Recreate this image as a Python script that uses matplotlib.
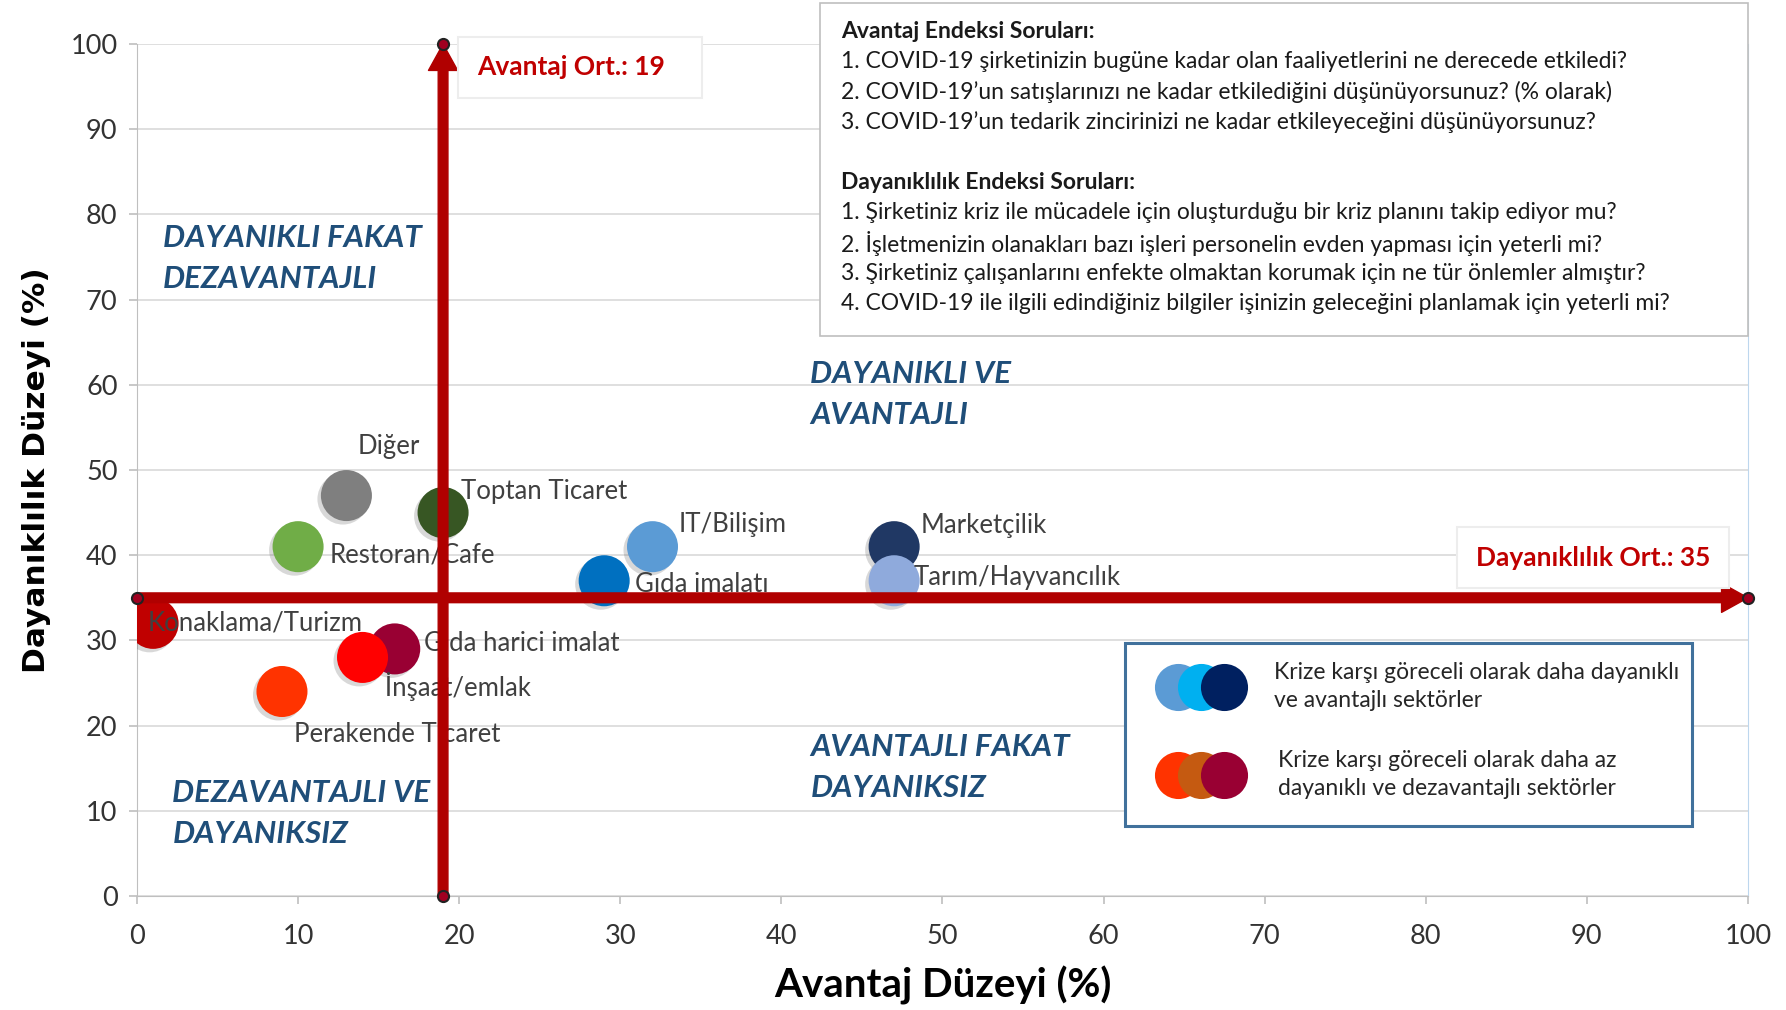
import matplotlib.pyplot as plt
import matplotlib.patheffects as pe
from matplotlib.patches import Rectangle

plt.rcParams['font.family'] = ['Lato', 'DejaVu Sans']

# sektör verileri
sectors = ['Diğer', 'Toptan Ticaret', 'Restoran/Cafe', 'IT/Bilişim', 'Gıda imalatı',
           'Marketçilik', 'Tarım/Hayvancılık', 'Konaklama/Turizm', 'Gıda harici imalat',
           'İnşaat/emlak', 'Perakende Ticaret']
advantage = [13, 19, 10, 32, 29, 47, 47, 1, 16, 14, 9]
resilience = [47, 45, 41, 41, 37, 41, 37, 32, 29, 28, 24]
colors = ['#7F7F7F', '#375623', '#70AD47', '#5B9BD5', '#0070C0', '#203864', '#8FAADC',
          '#C00000', '#990033', '#FF0000', '#FF3300']
# etiket kaydırmaları (pt)
offsets = [(8, 35), (13, 15), (23, -6), (19, 16), (22, -3), (19, 15), (14, 2),
           (-4, 0), (21, 4), (16, -21), (9, -31)]

adv_mean = 19
res_mean = 35

questions_adv = ['1. COVID-19 şirketinizin bugüne kadar olan faaliyetlerini ne derecede etkiledi?',
                 '2. COVID-19’un satışlarınızı ne kadar etkilediğini düşünüyorsunuz? (% olarak)',
                 '3. COVID-19’un tedarik zincirinizi ne kadar etkileyeceğini düşünüyorsunuz?']
questions_res = ['1. Şirketiniz kriz ile mücadele için oluşturduğu bir kriz planını takip ediyor mu?',
                 '2. İşletmenizin olanakları bazı işleri personelin evden yapması için yeterli mi?',
                 '3. Şirketiniz çalışanlarını enfekte olmaktan korumak için ne tür önlemler almıştır?',
                 '4. COVID-19 ile ilgili edindiğiniz bilgiler işinizin geleceğini planlamak için yeterli mi?']

legend_blue = ['#5B9BD5', '#00B0F0', '#002060']
legend_red = ['#FF3300', '#C55A11', '#990033']

RED = '#B00000'
QCOL = '#1F4E79'

fig = plt.figure(figsize=(17.86, 10.10), dpi=100)
ax = fig.add_axes([0.0767, 0.1129, 0.902, 0.8435])
ax.set_xlim(0, 100)
ax.set_ylim(0, 100)
ax.set_xticks(range(0, 101, 10))
ax.set_yticks(range(0, 101, 10))
ax.grid(axis='y', color='#D9D9D9', lw=1.2, zorder=0)
ax.set_axisbelow(True)
ax.spines['top'].set_visible(False)
ax.spines['left'].set_color('#BFBFBF')
ax.spines['bottom'].set_color('#BFBFBF')
ax.spines['right'].set_color('#BDD7EE')
ax.tick_params(colors='#BFBFBF', length=6, width=1.2, labelcolor='#333333', labelsize=19.5, pad=8)
ax.tick_params(axis='x', pad=14)

ax.set_xlabel('Avantaj Düzeyi (%)', fontsize=29, fontweight='bold', labelpad=12)
ax.set_ylabel('Dayanıklılık Düzeyi (%)', fontsize=22.5, fontweight='bold', labelpad=14,
              family=['DejaVu Sans'])

sc = ax.scatter(advantage, resilience, s=1350, c=colors, zorder=3, linewidths=0)
sc.set_path_effects([pe.SimplePatchShadow(offset=(-2.5, -2.5), shadow_rgbFace='#666666', alpha=0.25),
                     pe.Normal()])

for name, x, y, off in zip(sectors, advantage, resilience, offsets):
    ax.annotate(name, (x, y), xytext=off, textcoords='offset points', ha='left', va='center',
                fontsize=18.5, color='#404040', zorder=4)

# ortalama okları
ax.annotate('', xy=(adv_mean, 100), xytext=(adv_mean, 0),
            arrowprops=dict(width=7, headwidth=21, headlength=19, color=RED, shrink=0), zorder=5)
ax.annotate('', xy=(100, res_mean), xytext=(0, res_mean),
            arrowprops=dict(width=7, headwidth=21, headlength=19, color=RED, shrink=0), zorder=5)
ax.plot([adv_mean, adv_mean], [0, 100], ls='none', marker='o', ms=8, mfc='#A00020',
        mec='#222222', mew=1.5, zorder=6, clip_on=False)
ax.plot([0, 100], [res_mean, res_mean], ls='none', marker='o', ms=8, mfc='#A00020',
        mec='#222222', mew=1.5, zorder=6, clip_on=False)

box_kw = dict(boxstyle='square,pad=0.7', fc='white', ec='#EDEDED', lw=1.5)
ax.text(21.1, 97.3, f'Avantaj Ort.: {adv_mean}   ', color='#C00000', fontsize=19,
        fontweight='bold', va='center', ha='left', bbox=box_kw, zorder=7)
ax.text(83.1, 39.7, f'Dayanıklılık Ort.: {res_mean}', color='#C00000', fontsize=19,
        fontweight='bold', va='center', ha='left', bbox=box_kw, zorder=7)

# bölge etiketleri
quad = [('DAYANIKLI FAKAT\nDEZAVANTAJLI', 1.6, 74.8),
        ('DAYANIKLI VE\nAVANTAJLI', 41.8, 58.85),
        ('DEZAVANTAJLI VE\nDAYANIKSIZ', 2.2, 9.65),
        ('AVANTAJLI FAKAT\nDAYANIKSIZ', 41.8, 15.1)]
for t, x, y in quad:
    ax.text(x, y, t, color=QCOL, fontsize=22.5, fontweight='bold', fontstyle='italic',
            ha='left', va='center', linespacing=1.55, zorder=2)

# açıklama kutusu
ax.add_patch(Rectangle((61.3, 8.2), 35.2, 21.5, fc='white', ec='#41719C', lw=2.2, zorder=6))
for i, c in enumerate(legend_blue):
    ax.scatter(64.6 + 1.45 * i, 24.5, s=1150, color=c, zorder=7, linewidths=0)
for i, c in enumerate(legend_red):
    ax.scatter(64.6 + 1.45 * i, 14.2, s=1150, color=c, zorder=7, linewidths=0)
ax.text(70.6, 24.6, 'Krize karşı göreceli olarak daha dayanıklı\nve avantajlı sektörler',
        fontsize=16.5, color='#262626', va='center', ha='left', linespacing=1.4, zorder=8)
ax.text(70.8, 14.3, 'Krize karşı göreceli olarak daha az\ndayanıklı ve dezavantajlı sektörler',
        fontsize=16.5, color='#262626', va='center', ha='left', linespacing=1.4, zorder=8)

# soru kutusu
fig.add_artist(Rectangle((0.459, 0.667), 0.52, 0.33, transform=fig.transFigure,
                         fc='white', ec='#BFBFBF', lw=1.2, zorder=5))
lines = [('Avantaj Endeksi Soruları:', 'bold')] + [(q, 'normal') for q in questions_adv] + \
        [('', 'normal'), ('Dayanıklılık Endeksi Soruları:', 'bold')] + [(q, 'normal') for q in questions_res]
y0 = 1 - 31 / 1010
for i, (t, w) in enumerate(lines):
    fig.text(841 / 1786, y0 - i * 30.3 / 1010, t, fontsize=16.5, fontweight=w,
             color='#1A1A1A', va='center', ha='left', zorder=6)

fig.savefig('out.png', dpi=100, facecolor='white')
